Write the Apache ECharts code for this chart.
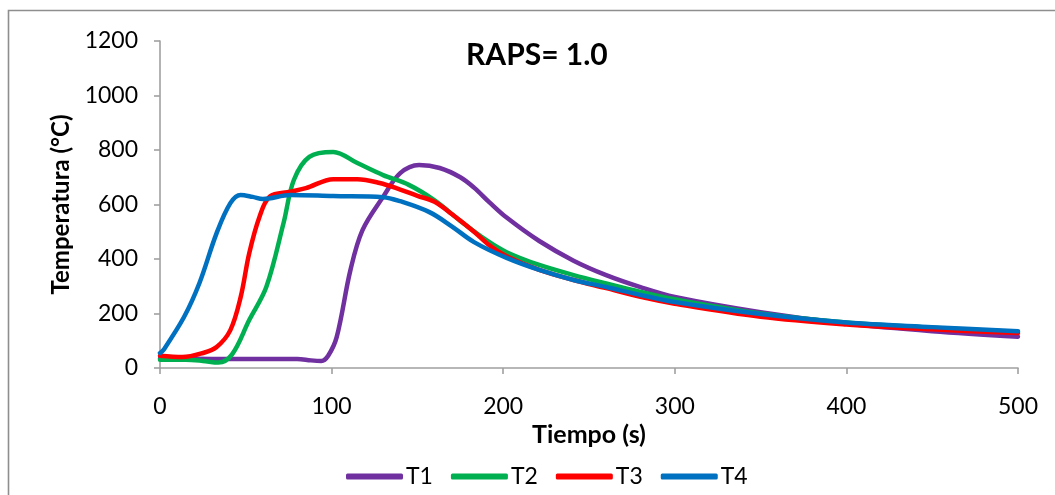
<!DOCTYPE html>
<html>
<head>
<meta charset="utf-8">
<script src="https://cdn.jsdelivr.net/npm/echarts@6/dist/echarts.min.js"></script>
<style>html,body{margin:0;padding:0;background:#fff;}#c{width:1055px;height:495px;}</style>
</head>
<body>
<div id="c"></div>
<script>
const seriesNames = ['T1', 'T2', 'T3', 'T4'];
const colors = ['#7030A0', '#00B050', '#FF0000', '#0070C0'];
const xTicks = [0, 100, 200, 300, 400, 500];
const yTicks = [0, 200, 400, 600, 800, 1000, 1200];

const t1Time = [0, 20, 40, 60, 80, 88, 94, 98, 103, 111, 118, 130, 140, 151, 163, 175, 183, 192, 202, 221, 241, 260, 280, 300, 350, 400, 450, 500];
const t1Temp = [35, 34, 33, 33, 33, 28, 26, 45, 114, 360, 506, 628, 715, 745, 734, 700, 662, 608, 552, 466, 394, 341, 297, 261, 205, 163, 135, 115];

const t2Time = [0, 15, 25, 34, 42, 52, 62, 72, 78, 87, 101, 115, 130, 145, 160, 175, 190, 202, 221, 241, 260, 280, 300, 350, 400, 450, 500];
const t2Temp = [30, 30, 26, 20, 50, 176, 298, 532, 690, 775, 793, 752, 708, 672, 615, 540, 470, 425, 378, 341, 310, 279, 252, 200, 167, 148, 132];

const t3Time = [0, 13, 25, 33, 41, 47, 52, 58, 64, 76, 85, 101, 115, 128, 140, 150, 160, 170, 183, 192, 202, 221, 241, 260, 280, 300, 350, 400, 450, 500];
const t3Temp = [45, 40, 55, 77, 139, 260, 421, 555, 629, 647, 660, 693, 693, 679, 655, 632, 610, 565, 500, 450, 410, 360, 323, 293, 261, 236, 188, 160, 142, 128];

const t4Time = [0, 2, 14, 23, 33, 41, 47, 54, 60, 76, 101, 130, 140, 157, 170, 183, 202, 221, 241, 260, 280, 300, 350, 400, 450, 500];
const t4Temp = [55, 66, 187, 312, 495, 605, 635, 628, 620, 635, 631, 627, 612, 572, 520, 462, 404, 360, 323, 297, 268, 242, 198, 167, 150, 135];

const times = [t1Time, t2Time, t3Time, t4Time];
const temps = [t1Temp, t2Temp, t3Temp, t4Temp];

const FONT = 'Lato';
const chart = echarts.init(document.getElementById('c'), null, {renderer: 'canvas'});

const series = seriesNames.map((name, i) => ({
  name: name,
  type: 'line',
  smooth: 0.35,
  showSymbol: false,
  symbol: 'none',
  color: colors[i],
  lineStyle: {width: 4.5, color: colors[i], cap: 'round', join: 'round'},
  data: times[i].map((t, k) => [t, temps[i][k]])
}));

chart.setOption({
  animation: false,
  textStyle: {fontFamily: FONT},
  graphic: [{
    type: 'rect',
    shape: {x: 8.5, y: 10.5, width: 1200, height: 700},
    style: {fill: 'none', stroke: '#8e8e8e', lineWidth: 1.6},
    silent: true
  }],
  title: {
    text: 'RAPS= 1.0',
    left: 461,
    top: 35,
    textStyle: {fontFamily: FONT, fontWeight: 'bold', fontSize: 30, color: '#000'}
  },
  grid: {left: 160, right: 37, top: 41, bottom: 127, containLabel: false},
  xAxis: {
    type: 'value',
    min: xTicks[0],
    max: xTicks[xTicks.length - 1],
    interval: xTicks[1] - xTicks[0],
    name: 'Tiempo (s)',
    nameLocation: 'middle',
    nameGap: 48,
    nameTextStyle: {fontFamily: FONT, fontWeight: 'bold', fontSize: 25, color: '#000'},
    axisLine: {show: true, lineStyle: {color: '#a0a0a0', width: 1.6}},
    axisTick: {show: true, inside: false, length: 6, lineStyle: {color: '#a0a0a0', width: 1.6}},
    axisLabel: {fontFamily: FONT, fontSize: 23, color: '#000', margin: 27},
    splitLine: {show: false}
  },
  yAxis: {
    type: 'value',
    min: yTicks[0],
    max: yTicks[yTicks.length - 1],
    interval: yTicks[1] - yTicks[0],
    name: 'Temperatura (°C)',
    nameLocation: 'middle',
    nameGap: 86,
    nameRotate: 90,
    nameTextStyle: {fontFamily: FONT, fontWeight: 'bold', fontSize: 24, color: '#000'},
    axisLine: {show: true, lineStyle: {color: '#a0a0a0', width: 1.6}},
    axisTick: {show: true, inside: false, length: 6, lineStyle: {color: '#a0a0a0', width: 1.6}},
    axisLabel: {fontFamily: FONT, fontSize: 23, color: '#000', margin: 22, formatter: v => String(v)},
    splitLine: {show: false}
  },
  legend: {
    data: seriesNames,
    left: 341,
    top: 460,
    itemWidth: 57,
    itemHeight: 6,
    itemGap: 18,
    icon: 'roundRect',
    textStyle: {fontFamily: FONT, fontSize: 23, color: '#000', padding: [0, 0, 0, -2]}
  },
  series: series
});
</script>
</body>
</html>
